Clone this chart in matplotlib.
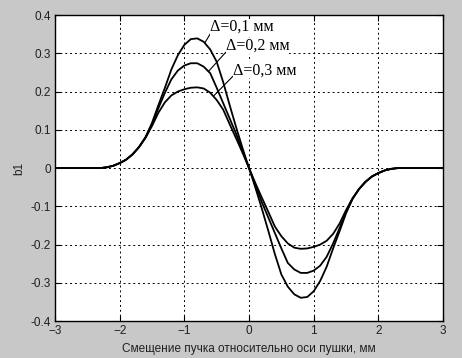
import numpy as np
import matplotlib.pyplot as plt

# offset along the beam, mm
x = [-3.0, -2.3, -2.2, -2.1, -2.0, -1.9, -1.8, -1.7, -1.6, -1.5, -1.4, -1.3, -1.2,
     -1.1, -1.0, -0.9, -0.8, -0.7, -0.6, -0.5, -0.4, -0.3, -0.2, -0.1, 0.0,
     0.1, 0.2, 0.3, 0.4, 0.5, 0.6, 0.7, 0.8, 0.9, 1.0, 1.1, 1.2, 1.3, 1.4,
     1.5, 1.6, 1.7, 1.8, 1.9, 2.0, 2.1, 2.2, 2.3, 3.0]

# b1 for delta = 0.1 mm
b1_d01 = [0.0, 0.0, 0.002, 0.006, 0.013, 0.022, 0.036, 0.055, 0.081, 0.118, 0.165, 0.21, 0.258,
          0.295, 0.322, 0.337, 0.339, 0.33, 0.31, 0.278, 0.225, 0.165, 0.107, 0.052, 0.0,
          -0.052, -0.107, -0.165, -0.225, -0.278, -0.31, -0.33, -0.339, -0.337, -0.322, -0.295, -0.258, -0.21, -0.165,
          -0.118, -0.081, -0.055, -0.036, -0.022, -0.013, -0.006, -0.002, 0.0, 0.0]

# b1 for delta = 0.2 mm
b1_d02 = [0.0, 0.0, 0.002, 0.006, 0.013, 0.022, 0.036, 0.055, 0.08, 0.115, 0.157, 0.197, 0.232,
          0.255, 0.268, 0.274, 0.274, 0.265, 0.248, 0.21, 0.17, 0.13, 0.09, 0.045, 0.0,
          -0.045, -0.09, -0.13, -0.17, -0.21, -0.248, -0.265, -0.274, -0.274, -0.268, -0.255, -0.232, -0.197, -0.157,
          -0.115, -0.08, -0.055, -0.036, -0.022, -0.013, -0.006, -0.002, 0.0, 0.0]

# b1 for delta = 0.3 mm
b1_d03 = [0.0, 0.0, 0.002, 0.006, 0.013, 0.022, 0.036, 0.055, 0.079, 0.11, 0.145, 0.172, 0.19,
          0.2, 0.206, 0.21, 0.211, 0.208, 0.197, 0.178, 0.153, 0.115, 0.078, 0.04, 0.0,
          -0.04, -0.078, -0.115, -0.153, -0.178, -0.197, -0.208, -0.211, -0.21, -0.206, -0.2, -0.19, -0.172, -0.145,
          -0.11, -0.079, -0.055, -0.036, -0.022, -0.013, -0.006, -0.002, 0.0, 0.0]

labels = ["Δ=0,1 мм", "Δ=0,2 мм", "Δ=0,3 мм"]
# label anchor (lower-left of text) and leader tip on the curve, in data units
label_pos = [(-0.6, 0.348), (-0.36, 0.298), (-0.25, 0.235)]
leader_tip = [(-0.68, 0.328), (-0.63, 0.252), (-0.55, 0.188)]

fig = plt.figure(figsize=(4.62, 3.58), dpi=100, facecolor="#c8c8c8")
ax = fig.add_axes([0.119, 0.103, 0.84, 0.855])

for b in (b1_d01, b1_d02, b1_d03):
    ax.plot(x, b, color="black", lw=1.3)

for lab, pos, tip in zip(labels, label_pos, leader_tip):
    ax.annotate(lab, xy=tip, xytext=pos, fontsize=11.5, family="Liberation Serif",
                ha="left", va="bottom", zorder=5,
                bbox=dict(boxstyle="square,pad=0.0", fc="white", ec="none"),
                arrowprops=dict(arrowstyle="-", color="black", lw=0.8,
                                shrinkA=0, shrinkB=0, relpos=(0.02, 0.2)))

ax.set_xlim(-3, 3)
ax.set_ylim(-0.4, 0.4)
ax.set_xticks([-3, -2, -1, 0, 1, 2, 3])
ax.set_yticks([-0.4, -0.3, -0.2, -0.1, 0, 0.1, 0.2, 0.3, 0.4])
ax.set_yticklabels(["-0.4", "-0.3", "-0.2", "-0.1", "0", "0.1", "0.2", "0.3", "0.4"])
ax.grid(True, color="black", linestyle=(0, (2, 3)), lw=0.7)
ax.tick_params(direction="in", top=True, right=True, length=4, labelsize=8.5, pad=3,
               labelcolor="#202020")
for t in ax.get_xticklabels() + ax.get_yticklabels():
    t.set_family("Liberation Sans")
for s in ax.spines.values():
    s.set_linewidth(1.0)
    s.set_zorder(6)

ax.set_xlabel("Смещение пучка относительно оси пушки, мм", fontsize=8.5,
              family="Liberation Sans", labelpad=4, color="#202020")
ax.set_ylabel("b1", fontsize=8.5, family="Liberation Sans", labelpad=4, color="#202020")

plt.savefig("out.png", dpi=100, facecolor=fig.get_facecolor())
